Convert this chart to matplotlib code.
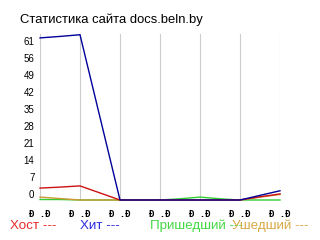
import matplotlib
matplotlib.use("Agg")
import matplotlib.pyplot as plt

# data (one point every half grid step)
x_pos = [0, 0.5, 1, 1.5, 2, 2.5, 3, 3.5, 4, 4.5, 5, 5.5, 6]
hits = [66.7, 67.3, 68.0, 34.0, 0, 0, 0, 0, 0, 0, 0, 1.9, 3.8]
hosts = [4.9, 5.3, 5.8, 2.9, 0, 0, 0, 0, 0, 0, 0, 1.3, 2.5]
came = [0.2, 0.2, 0, 0, 0, 0, 0, 0.5, 1.2, 0.5, 0, 0, 0]
left = [1.2, 0.6, 0, 0, 0, 0, 0, 0, 0, 0, 0, 1.2, 2.3]

ytick_vals = [0, 7, 14, 21, 28, 35, 42, 49, 56, 63]
ytick_labels = ["0", "7", "14", "21", "28", "35", "42", "49", "56", "61"]
xtick_vals = [0, 1, 2, 3, 4, 5, 6]
xtick_labels = ["Ð .Ð"] * 7

title = "Статистика сайта docs.beln.by"
legend_items = [("Хост ---", "#e82a2a", 10),
                ("Хит ---", "#2a2ae0", 80),
                ("Пришедший ---", "#44d844", 150),
                ("Ушедший ---", "#d8a844", 232)]

plt.rcParams['font.family'] = ['Liberation Sans', 'DejaVu Sans']

fig = plt.figure(figsize=(3.2, 2.4), dpi=100)
ax = fig.add_axes([40/320, 40/240, 240/320, 166/240])

ax.plot(x_pos, came, color="#33cc33", lw=1, clip_on=False)
ax.plot(x_pos, left, color="#cc9933", lw=1, clip_on=False)
ax.plot(x_pos, hosts, color="#cc1111", lw=1, clip_on=False)
ax.plot(x_pos, hits, color="#000099", lw=1, clip_on=False)

ax.set_xlim(0, 6)
ax.set_ylim(0, 68.3)
for s in ax.spines.values():
    s.set_visible(False)
ax.set_xticks(xtick_vals)
ax.set_xticklabels(xtick_labels, family="DejaVu Sans Mono", fontsize=6.5,
                   fontweight="bold", ha="center")
ax.grid(axis="x", color="#cccccc", lw=0.8)
ax.set_axisbelow(True)
ax.set_yticks(ytick_vals)
ax.set_yticklabels(ytick_labels, fontsize=7, va="bottom")
ax.tick_params(length=0, pad=4)
ax.tick_params(axis="x", pad=7)

fig.text(20/320, 1 - 20/240, title, fontsize=9.4, va="center", ha="left")
for txt, col, px in legend_items:
    fig.text(px/320, 1 - 226/240, txt, color=col, fontsize=9.6, va="center",
             ha="left")

fig.savefig("out.png", dpi=100)
